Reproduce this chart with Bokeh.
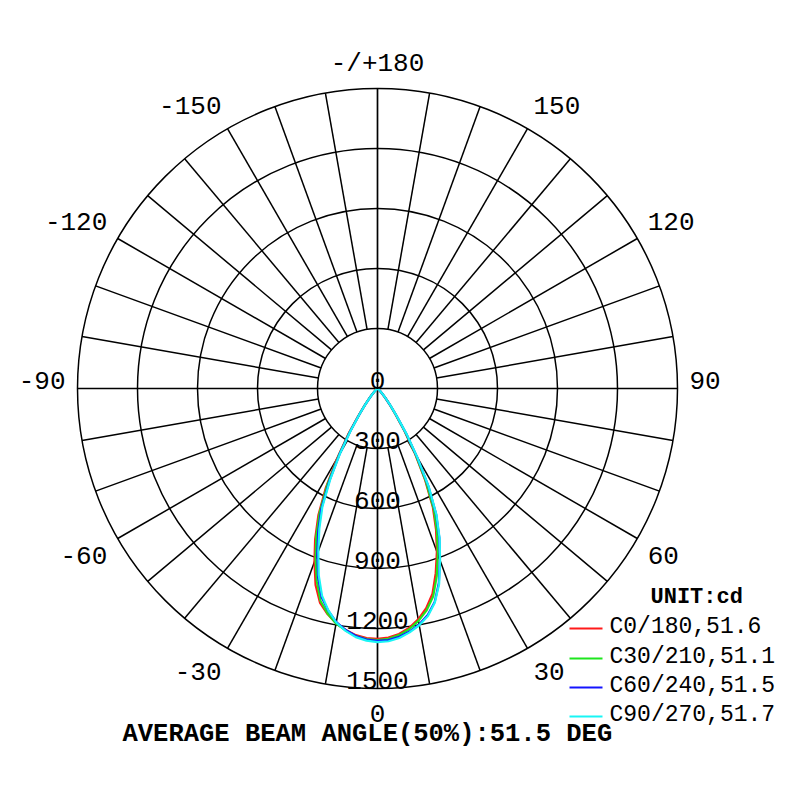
import math
from bokeh.plotting import figure
from bokeh.models import ColumnDataSource
from bokeh.core.properties import value
from bokeh.embed import file_html
from bokeh.resources import INLINE

# ---------------- data ----------------
RINGS = [300, 600, 900, 1200, 1500]            # cd
RING_LABELS = ["0", "300", "600", "900", "1200", "1500"]
RING_LABEL_VALUES = [0, 300, 600, 900, 1200, 1500]
SPOKE_STEP = 10                                  # degrees
ANGLE_VALUES = [0, 30, 60, 90, 120, 150, 180, -150, -120, -90, -60, -30]
ANGLE_TEXT = ["0", "30", "60", "90", "120", "150", "-/+180", "-150", "-120", "-90", "-60", "-30"]

GAMMA = [0, 2.5, 5, 7.5, 10, 12.5, 15, 17.5, 20, 22.5, 25, 27.5, 30,
         32.5, 35, 37.5, 40, 42.5, 45, 47.5, 50, 52.5, 55, 57.5, 60]

C180_LEFT = [1252, 1249, 1238, 1218, 1192, 1155, 1110, 1030, 922, 815, 700, 560, 405,
             275, 168, 104, 62, 37, 22, 13, 8, 5, 3, 2, 1]
C0_RIGHT  = [1252, 1247, 1232, 1208, 1172, 1125, 1062, 968, 868, 765, 655, 515, 372,
             250, 152, 96, 56, 34, 19, 12, 7, 5, 3, 2, 1]
C210_LEFT = [1258, 1254, 1242, 1220, 1194, 1152, 1100, 1010, 905, 800, 684, 545, 390,
             265, 160, 100, 60, 36, 21, 13, 8, 5, 3, 2, 1]
C30_RIGHT = [1258, 1253, 1238, 1214, 1180, 1136, 1076, 985, 882, 778, 668, 525, 380,
             255, 156, 98, 58, 35, 20, 12, 7, 5, 3, 2, 1]
C240_LEFT = [1262, 1257, 1242, 1218, 1186, 1138, 1080, 988, 880, 775, 665, 522, 380,
             255, 156, 98, 58, 35, 20, 12, 7, 5, 3, 2, 1]
C60_RIGHT = [1262, 1259, 1246, 1226, 1198, 1160, 1105, 1020, 912, 808, 694, 552, 396,
             268, 162, 101, 60, 36, 21, 13, 8, 5, 3, 2, 1]
C270_LEFT = [1268, 1262, 1248, 1222, 1188, 1136, 1072, 978, 865, 760, 652, 512, 372,
             250, 156, 97, 58, 35, 20, 12, 7, 5, 3, 2, 1]
C90_RIGHT = [1268, 1265, 1252, 1230, 1202, 1165, 1108, 1025, 915, 812, 698, 556, 400,
             272, 164, 102, 62, 37, 22, 13, 8, 5, 3, 2, 1]

SERIES_NAMES = ["C0/180,51.6", "C30/210,51.1", "C60/240,51.5", "C90/270,51.7"]
SERIES_COLORS = ["#ff1a1a", "#1ee61e", "#1414ff", "#19f5f5"]
SERIES_LEFT = [C180_LEFT, C210_LEFT, C240_LEFT, C270_LEFT]
SERIES_RIGHT = [C0_RIGHT, C30_RIGHT, C60_RIGHT, C90_RIGHT]

UNIT_TEXT = "UNIT:cd"
TITLE_TEXT = "AVERAGE BEAM ANGLE(50%):51.5 DEG"

# ---------------- geometry helpers ----------------
S = 5.0          # cd per pixel
W = H = 784
CX, CY = 377, 388   # canvas centre in px


def P(sx, sy):
    """screen px -> data coords"""
    return (sx - CX) * S, (CY - sy) * S


p = figure(width=W, height=H,
           x_range=(-CX * S, (W - CX) * S),
           y_range=(-(H - CY) * S, CY * S),
           x_axis_type=None, y_axis_type=None,
           output_backend="svg", toolbar_location=None,
           min_border=0)
p.grid.visible = False
p.outline_line_color = None
p.background_fill_color = "white"
p.border_fill_color = "white"

# rings
p.circle(x=[0] * len(RINGS), y=[0] * len(RINGS), radius=RINGS,
         fill_color=None, line_color="black", line_width=1.5)

# spokes
x0, y0, x1, y1 = [], [], [], []
for a in range(0, 360, SPOKE_STEP):
    if a % 90 == 0:
        continue
    t = math.radians(a)
    x0.append(RINGS[0] * math.sin(t)); y0.append(RINGS[0] * math.cos(t))
    x1.append(RINGS[-1] * math.sin(t)); y1.append(RINGS[-1] * math.cos(t))
p.segment(x0=x0, y0=y0, x1=x1, y1=y1, line_color="black", line_width=1.5)
R = RINGS[-1]
p.segment(x0=[-R, 0], y0=[0, -R], x1=[R, 0], y1=[0, R], line_color="black", line_width=1.7)

# curves
for left, right, col in zip(SERIES_LEFT, SERIES_RIGHT, SERIES_COLORS):
    xs, ys = [0.0], [0.0]
    for g, I in zip(reversed(GAMMA), reversed(left)):
        t = math.radians(g)
        xs.append(-I * math.sin(t)); ys.append(-I * math.cos(t))
    for g, I in zip(GAMMA, right):
        t = math.radians(g)
        xs.append(I * math.sin(t)); ys.append(-I * math.cos(t))
    xs.append(0.0); ys.append(0.0)
    p.line(xs, ys, line_color=col, line_width=2.2, line_join="round")

# angle labels
lx, ly, lt, la = [], [], [], []
for v, txt in zip(ANGLE_VALUES, ANGLE_TEXT):
    t = math.radians(v)
    s, c = math.sin(t), math.cos(t)
    if abs(s) < 1e-6:
        align = "center"; xpx = 0.0
    else:
        align = "left" if s > 0 else "right"; xpx = 312 * s
    if abs(c) < 1e-6:
        ydown = -8.0
    else:
        ydown = 316 * c + 9 * (1 if c > 0 else -1)
    lx.append(xpx * S); ly.append(-ydown * S); lt.append(txt); la.append(align)
src = ColumnDataSource(dict(x=lx, y=ly, text=lt, align=la))
p.text(x="x", y="y", text="text", source=src, text_align="align",
       text_baseline="middle", text_font=value("Liberation Mono"),
       text_font_size="26px", text_color="black")

# ring labels (sitting on the ring, below centre)
p.text(x=[0] * len(RING_LABEL_VALUES), y=[-r + 8.5 * S for r in RING_LABEL_VALUES],
       text=RING_LABELS, text_align="center", text_baseline="middle",
       text_font=value("Liberation Mono"), text_font_size="26px", text_color="black")

# legend
ux, uy = P(650, 596.5)
p.text(x=[ux], y=[uy], text=[UNIT_TEXT], text_align="left", text_baseline="middle",
       text_font=value("Liberation Mono"), text_font_style="bold",
       text_font_size="22px", text_color="black")
row_line_y = [628, 658, 687, 716]
for i, (name, col) in enumerate(zip(SERIES_NAMES, SERIES_COLORS)):
    xa, ya = P(569, row_line_y[i])
    xb, _ = P(602, row_line_y[i])
    p.line([xa, xb], [ya, ya], line_color=col, line_width=2.0)
    tx, ty = P(609, row_line_y[i] - 1.5)
    p.text(x=[tx], y=[ty], text=[name], text_align="left", text_baseline="middle",
           text_font=value("Liberation Mono"), text_font_size="23px", text_color="black")

# title
tx, ty = P(122, 733.5)
p.text(x=[tx], y=[ty], text=[TITLE_TEXT], text_align="left", text_baseline="middle",
       text_font=value("Liberation Mono"), text_font_style="bold",
       text_font_size="25.5px", text_color="black")

open("out.html", "w").write(file_html(p, INLINE))
